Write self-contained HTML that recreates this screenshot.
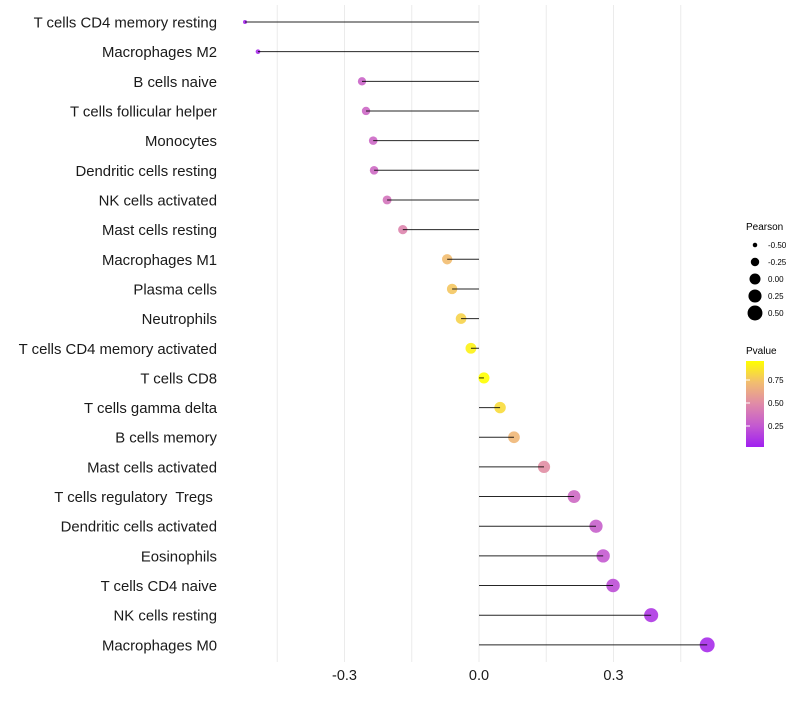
<!DOCTYPE html>
<html><head><meta charset="utf-8"><style>
body{margin:0;background:#fff;font-family:"Liberation Sans",sans-serif;}
text{white-space:pre;}
</style></head><body>
<svg id="chart" width="800" height="700" xmlns="http://www.w3.org/2000/svg">
<defs><linearGradient id="pg" x1="0" y1="1" x2="0" y2="0">
<stop offset="0" stop-color="#a020f0"/><stop offset="0.25" stop-color="#c45ad0"/><stop offset="0.5" stop-color="#e08aa8"/><stop offset="0.75" stop-color="#f2bd70"/><stop offset="1" stop-color="#ffff00"/></linearGradient></defs>
<g id="grid"></g><g id="marks"></g><g id="labels"></g><g id="legend"></g>
</svg>
<script>
const categories=["T cells CD4 memory resting","Macrophages M2","B cells naive","T cells follicular helper","Monocytes","Dendritic cells resting","NK cells activated","Mast cells resting","Macrophages M1","Plasma cells","Neutrophils","T cells CD4 memory activated","T cells CD8","T cells gamma delta","B cells memory","Mast cells activated","T cells regulatory  Tregs ","Dendritic cells activated","Eosinophils","T cells CD4 naive","NK cells resting","Macrophages M0"];
const pearson=[-0.522,-0.493,-0.261,-0.252,-0.236,-0.234,-0.205,-0.170,-0.071,-0.060,-0.040,-0.018,0.011,0.047,0.078,0.145,0.212,0.261,0.277,0.299,0.384,0.509];
const pvalue=[0.03,0.05,0.3,0.32,0.32,0.33,0.38,0.47,0.75,0.78,0.82,0.92,0.96,0.85,0.72,0.52,0.33,0.28,0.25,0.2,0.1,0.05];
const xTicks=[-0.3,0.0,0.3];
const xTickLabels=["-0.3","0.0","0.3"];
const gridVals=[-0.45,-0.3,-0.15,0,0.15,0.3,0.45];
const sizeLegend=[-0.5,-0.25,0,0.25,0.5];
const pLegend=[0.25,0.5,0.75];

const NS="http://www.w3.org/2000/svg";
const x=v=>479+v*448.3;
const y=i=>22+i*29.66;
const r=v=>Math.sqrt(Math.max(1,4+(v+0.522)*50.4));
const stops=[[0.0,[160,32,240]],[0.25,[196,90,208]],[0.5,[224,138,168]],[0.75,[242,189,112]],[0.96,[255,255,0]]];
function col(p){if(p<=stops[0][0])return "rgb("+stops[0][1]+")";for(let k=1;k<stops.length;k++){if(p<=stops[k][0]){const a=stops[k-1],b=stops[k],t=(p-a[0])/(b[0]-a[0]);return "rgb("+a[1].map((c,j)=>Math.round(c+(b[1][j]-c)*t)).join(",")+")";}}return "rgb(255,255,0)";}
function mk(t,a,parent){const e=document.createElementNS(NS,t);for(const k in a)e.setAttribute(k,a[k]);document.getElementById(parent).appendChild(e);return e;}
gridVals.forEach(v=>{const l=mk("line",{x1:x(v),x2:x(v),y1:5,y2:662,stroke:"#ebebeb","stroke-width":1},"grid");

});
xTicks.forEach((v,i)=>{const t=mk("text",{x:x(v),y:680,"text-anchor":"middle","font-size":14.5,fill:"#1a1a1a"},"labels");t.textContent=xTickLabels[i];

});
categories.forEach((c,i)=>{
const d=mk("circle",{cx:x(pearson[i]),cy:y(i),r:r(pearson[i]),fill:col(pvalue[i]),"fill-opacity":0.9},"marks");


const l=mk("line",{x1:x(0),x2:x(pearson[i]),y1:y(i),y2:y(i),stroke:"#000","stroke-width":1,"stroke-opacity":0.85},"marks");


const t=mk("text",{x:217,y:y(i)+5.5,"text-anchor":"end","font-size":14.9,fill:"#1a1a1a"},"labels");t.textContent=c;

});
let t=mk("text",{x:746,y:230,"font-size":10,fill:"#000"},"legend");t.textContent="Pearson";


sizeLegend.forEach((v,i)=>{const cy=245+i*17;
const c=mk("circle",{cx:755,cy:cy,r:r(v),fill:"#000"},"legend");


const s=mk("text",{x:768,y:cy+3,"font-size":8,fill:"#000"},"legend");s.textContent=v.toFixed(2);

});
t=mk("text",{x:746,y:354,"font-size":10,fill:"#000"},"legend");t.textContent="Pvalue";


const bar=mk("rect",{x:746,y:361,width:18,height:86,fill:"url(#pg)"},"legend");


const py=p=>403-(p-0.5)*92;
pLegend.forEach(p=>{
const a=mk("line",{x1:746,x2:750,y1:py(p),y2:py(p),stroke:"#fff"},"legend");


const s=mk("text",{x:768,y:py(p)+3,"font-size":8,fill:"#000"},"legend");s.textContent=p.toFixed(2);

});
</script>
</body></html>
